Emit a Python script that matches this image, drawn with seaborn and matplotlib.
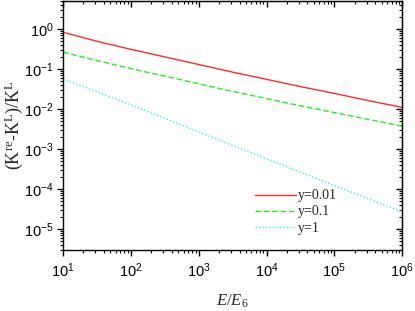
import numpy as np
import pandas as pd
import matplotlib
matplotlib.use("Agg")
import matplotlib.pyplot as plt
import seaborn as sns
from matplotlib.ticker import LogLocator, FuncFormatter, NullFormatter

# values (log-log, half-decade points)
energy = [1e1, 10**1.5, 1e2, 10**2.5, 1e3, 10**3.5, 1e4, 10**4.5, 1e5, 10**5.5, 1e6]
ratio_y001 = [0.826, 0.490, 0.309, 0.200, 0.129, 0.0832, 0.0550, 0.0363, 0.0245, 0.0162, 0.0110]
ratio_y01 = [0.263, 0.162, 0.102, 0.0661, 0.0427, 0.0275, 0.0182, 0.0120, 0.00813, 0.00550, 0.00372]
ratio_y1 = [0.0562, 0.0269, 0.0126, 0.00589, 0.00269, 0.00123, 5.75e-4, 2.63e-4, 1.23e-4, 5.75e-5, 2.69e-5]
labels = ["y=0.01", "y=0.1", "y=1"]

df = pd.concat([
    pd.DataFrame({"E": energy, "ratio": vals, "series": lab})
    for vals, lab in zip([ratio_y001, ratio_y01, ratio_y1], labels)
])

sns.set_style("ticks")
plt.rcParams["font.family"] = ["Liberation Serif", "DejaVu Serif"]
plt.rcParams["mathtext.fontset"] = "custom"
plt.rcParams["mathtext.rm"] = "Liberation Serif"
plt.rcParams["mathtext.it"] = "Liberation Serif:italic"
plt.rcParams["mathtext.sf"] = "Liberation Sans"

fig = plt.figure(figsize=(4.15, 3.11), dpi=100)
ax = fig.add_axes([0.152, 0.196, 0.817, 0.801])

palette = {"y=0.01": "#ff2a2a", "y=0.1": "#22ee22", "y=1": "#33eeee"}
dashes = {"y=0.01": "", "y=0.1": (4, 2), "y=1": (1, 1.5)}
sns.lineplot(data=df, x="E", y="ratio", hue="series", style="series",
             palette=palette, dashes=dashes, linewidth=1.0, ax=ax)

ax.set_xscale("log")
ax.set_yscale("log")
ax.set_xlim(1e1, 1e6)
ax.set_ylim(3e-6, 5)


def setup_log_axis(axis):
    axis.set_major_locator(LogLocator(base=10, numticks=10))
    axis.set_minor_locator(LogLocator(base=10, subs=np.arange(2, 10), numticks=20))


fmt = FuncFormatter(lambda v, p: r"$\mathsf{10^{%d}}$" % int(round(np.log10(v))))
for axis in (ax.xaxis, ax.yaxis):
    setup_log_axis(axis)
    axis.set_major_formatter(fmt)

ax.tick_params(which="both", direction="out", colors="black", labelsize=10.5)
ax.tick_params(which="major", length=4, width=1)
ax.tick_params(which="minor", length=2.5, width=0.8)
ax.tick_params(axis="x", pad=4)
ax.tick_params(axis="y", pad=3)

# mirrored ticks on top and right, pointing inward
top = ax.secondary_xaxis("top")
right = ax.secondary_yaxis("right")
for sec, axis in ((top, top.xaxis), (right, right.yaxis)):
    setup_log_axis(axis)
    axis.set_major_formatter(NullFormatter())
    axis.set_minor_formatter(NullFormatter())
    sec.tick_params(which="both", direction="in", colors="black")
    sec.tick_params(which="major", length=4, width=1)
    sec.tick_params(which="minor", length=2.5, width=0.8)

for s in ax.spines.values():
    s.set_linewidth(1.0)
    s.set_color("black")

ax.set_xlabel(r"$E/E_{\mathrm{6}}$", fontsize=12, labelpad=9)
ax.set_ylabel(r"(K$^{\mathrm{re}}$-K$^{\mathrm{L}}$)/K$^{\mathrm{L}}$", fontsize=13)
ax.yaxis.set_label_coords(-0.112, 0.5)

ax.legend(title=None, frameon=False, fontsize=10, loc="lower left",
          bbox_to_anchor=(0.53, 0.012), handlelength=2.9, handletextpad=0.2,
          labelspacing=0.22)

fig.savefig("out.png", dpi=100)
